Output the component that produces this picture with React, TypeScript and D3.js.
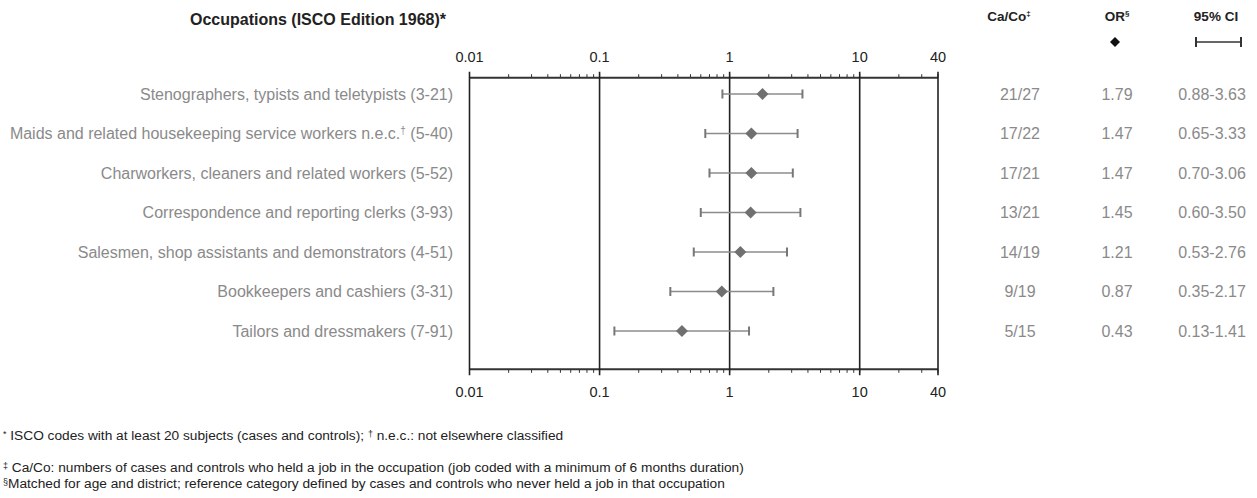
import React from 'react';
import * as d3 from 'd3';

const occupations = [
  'Stenographers, typists and teletypists (3-21)',
  'Maids and related housekeeping service workers n.e.c.|† (5-40)',
  'Charworkers, cleaners and related workers (5-52)',
  'Correspondence and reporting clerks (3-93)',
  'Salesmen, shop assistants and demonstrators (4-51)',
  'Bookkeepers and cashiers (3-31)',
  'Tailors and dressmakers (7-91)',
];
const caCo = ['21/27', '17/22', '17/21', '13/21', '14/19', '9/19', '5/15'];
const orValues = [1.79, 1.47, 1.47, 1.45, 1.21, 0.87, 0.43];
const orLabels = ['1.79', '1.47', '1.47', '1.45', '1.21', '0.87', '0.43'];
const ciLow = [0.88, 0.65, 0.7, 0.6, 0.53, 0.35, 0.13];
const ciHigh = [3.63, 3.33, 3.06, 3.5, 2.76, 2.17, 1.41];
const ciLabels = ['0.88-3.63', '0.65-3.33', '0.70-3.06', '0.60-3.50', '0.53-2.76', '0.35-2.17', '0.13-1.41'];
const majorTicks = [0.01, 0.1, 1, 10, 40];
const majorTickLabels = ['0.01', '0.1', '1', '10', '40'];

const FONT = '"Liberation Sans", Arial, sans-serif';

function Label({ text, x, y, ...rest }: any) {
  const parts = text.split('|');
  if (parts.length === 1) return <text x={x} y={y} {...rest}>{text}</text>;
  const sup = parts[1].charAt(0);
  const restTxt = parts[1].slice(1);
  return (
    <text x={x} y={y} {...rest}>
      {parts[0]}
      <tspan fontSize="10" dy="-5">{sup}</tspan>
      <tspan dy="5">{restTxt}</tspan>
    </text>
  );
}

export default function App() {
  const W = 1257, H = 498;
  const x = d3.scaleLog().domain([0.01, 40]).range([469.5, 938]);
  const y = d3.scalePoint<string>().domain(occupations).range([94, 331]);
  const axisTop = 77.7;
  const axisBottom = 369.3;
  const minor = x.ticks();
  const labelGray = '#8a8a8a';
  const dark = '#222';
  const ciColor = '#8c8c8c';
  const markerColor = '#707070';
  const diamond = (cx: number, cy: number, r: number) =>
    `M${cx},${cy - r}L${cx + r},${cy}L${cx},${cy + r}L${cx - r},${cy}Z`;

  return (
    <div style={{ position: 'absolute', left: 0, top: 0 }}>
      <svg width={W} height={H} style={{ display: 'block', background: '#fff' }} fontFamily={FONT}>
        {/* Title and column headers */}
        <text x={318} y={25} textAnchor="middle" fontSize={16} fontWeight="bold" fill={dark}>
          Occupations (ISCO Edition 1968)*
        </text>
        <text x={1009} y={21} textAnchor="middle" fontSize={13.5} fontWeight="bold" fill={dark}>
          Ca/Co<tspan fontSize="8" dy="-5">‡</tspan>
        </text>
        <text x={1117} y={21} textAnchor="middle" fontSize={13.5} fontWeight="bold" fill={dark}>
          OR<tspan fontSize="8" dy="-5">§</tspan>
        </text>
        <path d={diamond(1115, 42, 5)} fill="#111" />
        <text x={1216} y={21} textAnchor="middle" fontSize={13.5} fontWeight="bold" fill={dark}>
          95% CI
        </text>
        <g stroke="#333" strokeWidth={1.4}>
          <line x1={1196} x2={1241} y1={42} y2={42} />
          <line x1={1196} x2={1196} y1={37} y2={47} strokeWidth={2} />
          <line x1={1241} x2={1241} y1={37} y2={47} strokeWidth={2} />
        </g>

        {/* Axes */}
        <g stroke="#333">
          <line x1={x(0.01)} x2={x(40)} y1={axisTop} y2={axisTop} strokeWidth={2} />
          <line x1={x(0.01)} x2={x(40)} y1={axisBottom} y2={axisBottom} strokeWidth={2} />
          {minor.map((t, i) => (
            <g key={i} strokeWidth={1}>
              <line x1={x(t)} x2={x(t)} y1={axisTop} y2={axisTop - 3.5} />
              <line x1={x(t)} x2={x(t)} y1={axisBottom} y2={axisBottom + 3.5} />
            </g>
          ))}
          {majorTicks.map((t, i) => (
            <line key={i} x1={x(t)} x2={x(t)} y1={axisTop - 6} y2={axisBottom + 6} strokeWidth={1.6} stroke="#222" />
          ))}
        </g>
        {majorTicks.map((t, i) => (
          <g key={i}>
            <text x={x(t)} y={62} textAnchor="middle" fontSize={14.5} fill={dark}>{majorTickLabels[i]}</text>
            <text x={x(t)} y={397} textAnchor="middle" fontSize={14.5} fill={dark}>{majorTickLabels[i]}</text>
          </g>
        ))}

        {/* Rows */}
        {occupations.map((occ, i) => {
          const cy = y(occ) as number;
          return (
            <g key={occ}>
              <Label text={occ} x={453} y={cy + 5.5} textAnchor="end" fontSize={16} fill={labelGray} />
              <g stroke={ciColor}>
                <line x1={x(ciLow[i])} x2={x(ciHigh[i])} y1={cy} y2={cy} strokeWidth={1.4} />
                <line x1={x(ciLow[i])} x2={x(ciLow[i])} y1={cy - 4.5} y2={cy + 4.5} strokeWidth={2} stroke="#777" />
                <line x1={x(ciHigh[i])} x2={x(ciHigh[i])} y1={cy - 4.5} y2={cy + 4.5} strokeWidth={2} stroke="#777" />
              </g>
              <path d={diamond(x(orValues[i]), cy, 6)} fill={markerColor} />
              <text x={1020} y={cy + 5.5} textAnchor="middle" fontSize={16} fill={labelGray}>{caCo[i]}</text>
              <text x={1117} y={cy + 5.5} textAnchor="middle" fontSize={16} fill={labelGray}>{orLabels[i]}</text>
              <text x={1212} y={cy + 5.5} textAnchor="middle" fontSize={16} fill={labelGray}>{ciLabels[i]}</text>
            </g>
          );
        })}

        {/* Footnotes */}
        <g fontSize={13.7} fill="#222">
          <text x={3} y={440}>
            <tspan fontSize="9" dy="-3">*</tspan>
            <tspan dy="3"> ISCO codes with at least 20 subjects (cases and controls); </tspan>
            <tspan fontSize="9" dy="-3">†</tspan>
            <tspan dy="3"> n.e.c.: not elsewhere classified</tspan>
          </text>
          <text x={3} y={472}>
            <tspan fontSize="9" dy="-3">‡</tspan>
            <tspan dy="3"> Ca/Co: numbers of cases and controls who held a job in the occupation (job coded with a minimum of 6 months duration)</tspan>
          </text>
          <text x={3} y={488}>
            <tspan fontSize="9" dy="-3">§</tspan>
            <tspan dy="3">Matched for age and district; reference category defined by cases and controls who never held a job in that occupation</tspan>
          </text>
        </g>
      </svg>
    </div>
  );
}
